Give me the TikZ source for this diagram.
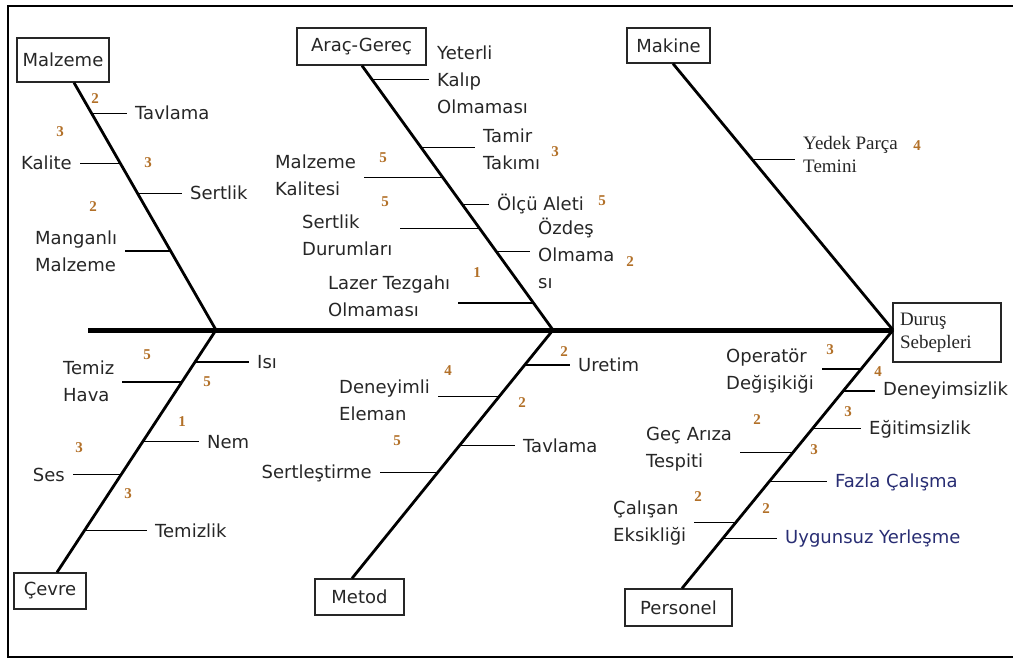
\documentclass[tikz,border=0pt]{standalone}
\usepackage{fontspec}
\setmainfont{DejaVu Sans}
\newfontfamily\serifnum{Liberation Serif}
\definecolor{scorecol}{RGB}{178,112,40}
\definecolor{navytext}{RGB}{40,45,115}

\begin{document}
\begin{tikzpicture}[
  x=1pt, y=-1pt,
  head/.style={
    rectangle,
    draw=black!85,
    line width=1.3pt,
    inner sep=0pt,
    text=black!85,
    font=\fontsize{18}{22}\selectfont
  },
  cause/.style={
    anchor=west,
    inner sep=1pt,
    align=left,
    text=black!85,
    font=\fontsize{18}{27}\selectfont
  },
  score/.style={
    inner sep=0pt,
    text=scorecol,
    font=\serifnum\bfseries\fontsize{15}{15}\selectfont
  },
  spine/.style={line width=5pt},
  bone/.style={line width=2.8pt},
  twig/.style={line width=1.3pt, shorten >=7pt}
]
\useasboundingbox (0,0) rectangle (1013,659);

% --- CORNICE ------------------------------------------------------
\draw[line width=2pt] (1016,6) -- (8,6) -- (8,657) -- (1016,657);

% --- SPINA E RISULTATO --------------------------------------------
\coordinate (tail) at (88,330);
\coordinate (j1) at (216,330);
\coordinate (j2) at (553,330);
\coordinate (j3) at (893,330);

\node[head, text width=94, inner xsep=7, minimum height=59, align=left,
      font=\serifnum\fontsize{19}{23}\selectfont] (effect) at (947,332.5) {Duruş\\Sebepleri};

\draw[spine] (tail) -- (j3);

% --- CATEGORIE ----------------------------------------------------
\node[head, minimum width=92, minimum height=44] (malzeme) at (63,60) {Malzeme};
\node[head, minimum width=129, minimum height=37] (arac) at (361.5,46.5) {Araç-Gereç};
\node[head, minimum width=83, minimum height=35] (makine) at (668.5,45.5) {Makine};
\node[head, minimum width=72, minimum height=36] (cevre) at (50,591) {Çevre};
\node[head, minimum width=89, minimum height=36] (metod) at (359.5,597) {Metod};
\node[head, minimum width=107, minimum height=37] (personel) at (678.5,607.5) {Personel};

% --- LISCHE -------------------------------------------------------
\draw[bone] ([xshift=11]malzeme.south) -- (j1)
  coordinate[pos=.125] (m1) coordinate[pos=.327] (m2)
  coordinate[pos=.448] (m3) coordinate[pos=.681] (m4);
\draw[bone] ([xshift=.5]arac.south) -- (j2)
  coordinate[pos=.053] (a1) coordinate[pos=.309] (a2)
  coordinate[pos=.423] (a3) coordinate[pos=.525] (a4)
  coordinate[pos=.615] (a5) coordinate[pos=.702] (a6)
  coordinate[pos=.898] (a7);
\draw[bone] ([xshift=4.5]makine.south) -- (j3)
  coordinate[pos=.36] (k1);
\draw[bone] ([xshift=7]cevre.north) -- (j1)
  coordinate[pos=.868] (c1) coordinate[pos=.786] (c2)
  coordinate[pos=.539] (c3) coordinate[pos=.403] (c4)
  coordinate[pos=.173] (c5);
\draw[bone] ([xshift=-7.5]metod.north) -- (j2)
  coordinate[pos=.859] (t1) coordinate[pos=.731] (t2)
  coordinate[pos=.534] (t3) coordinate[pos=.426] (t4);
\draw[bone] ([xshift=3.5]personel.north) -- (j3)
  coordinate[pos=.849] (p1) coordinate[pos=.764] (p2)
  coordinate[pos=.618] (p3) coordinate[pos=.525] (p4)
  coordinate[pos=.413] (p5) coordinate[pos=.255] (p6)
  coordinate[pos=.193] (p7);

% --- MALZEME ------------------------------------------------------
\node[cause] (tav1) at (134,113) {Tavlama};
\node[cause, anchor=east] (kal) at (73,163) {Kalite};
\node[cause] (ser1) at (189,193) {Sertlik};
\node[cause] (man) at (34,251) {Manganlı\\Malzeme};

\draw[twig] (m1) -- (m1 -| tav1.west);
\draw[twig] (m2) -- (m2 -| kal.east);
\draw[twig] (m3) -- (m3 -| ser1.west);
\draw[twig] (m4) -- (m4 -| man.east);

\node[score] (tav1-n) at (95,99) {2};
\node[score] (kal-n) at (60,132) {3};
\node[score] (ser1-n) at (148,163) {3};
\node[score] (man-n) at (93,207) {2};

% --- ARAÇ-GEREÇ ---------------------------------------------------
\node[cause] (yet) at (436,80) {Yeterli\\Kalıp\\Olmaması};
\node[cause] (tam) at (482,149) {Tamir\\Takımı};
\node[cause] (mka) at (274,175) {Malzeme\\Kalitesi};
\node[cause] (olc) at (496,204) {Ölçü Aleti};
\node[cause] (sdu) at (301,235) {Sertlik\\Durumları};
\node[cause] (ozd) at (537,253) {Özdeş\\Olmama\\sı};
\node[cause] (laz) at (327,296) {Lazer Tezgahı\\Olmaması};

\draw[twig] (a1) -- (a1 -| yet.west);
\draw[twig] (a2) -- (a2 -| tam.west);
\draw[twig] (a3) -- (a3 -| mka.east);
\draw[twig] (a4) -- (a4 -| olc.west);
\draw[twig] (a5) -- (a5 -| sdu.east);
\draw[twig] (a6) -- (a6 -| ozd.west);
\draw[twig] (a7) -- (a7 -| laz.east);

\node[score] (tam-n) at (555,152) {3};
\node[score] (mka-n) at (383,158) {5};
\node[score] (olc-n) at (602,201) {5};
\node[score] (sdu-n) at (385,202) {5};
\node[score] (ozd-n) at (630,262) {2};
\node[score] (laz-n) at (477,273) {1};

% --- MAKINE -------------------------------------------------------
\node[cause, font=\serifnum\fontsize{19}{23}\selectfont] (yed) at (802,154) {Yedek Parça\\Temini};
\draw[twig] (k1) -- (k1 -| yed.west);
\node[score] (yed-n) at (917,146) {4};

% --- ÇEVRE --------------------------------------------------------
\node[cause] (isi) at (256,362) {Isı};
\node[cause] (thv) at (62,381) {Temiz\\Hava};
\node[cause] (nem) at (206,442) {Nem};
\node[cause, anchor=east] (ses) at (66,475) {Ses};
\node[cause] (tmz) at (154,531) {Temizlik};

\draw[twig] (c1) -- (c1 -| isi.west);
\draw[twig] (c2) -- (c2 -| thv.east);
\draw[twig] (c3) -- (c3 -| nem.west);
\draw[twig] (c4) -- (c4 -| ses.east);
\draw[twig] (c5) -- (c5 -| tmz.west);

\node[score] (thv-n) at (147,355) {5};
\node[score] (isi-n) at (207,382) {5};
\node[score] (nem-n) at (182,422) {1};
\node[score] (ses-n) at (79,448) {3};
\node[score] (tmz-n) at (128,494) {3};

% --- METOD --------------------------------------------------------
\node[cause] (ure) at (577,365) {Uretim};
\node[cause] (den) at (338,400) {Deneyimli\\Eleman};
\node[cause] (tav2) at (522,446) {Tavlama};
\node[cause, anchor=east] (sts) at (373,473) {Sertleştirme};

\draw[twig] (t1) -- (t1 -| ure.west);
\draw[twig] (t2) -- (t2 -| den.east);
\draw[twig] (t3) -- (t3 -| tav2.west);
\draw[twig] (t4) -- (t4 -| sts.east);

\node[score] (ure-n) at (564,352) {2};
\node[score] (den-n) at (448,371) {4};
\node[score] (tav2-n) at (522,403) {2};
\node[score] (sts-n) at (397,441) {5};

% --- PERSONEL -----------------------------------------------------
\node[cause] (ope) at (725,371) {Operatör\\Değişikiği};
\node[cause] (dsz) at (882,391) {Deneyimsizlik};
\node[cause] (egt) at (868,429) {Eğitimsizlik};
\node[cause] (gec) at (645,449) {Geç Arıza\\Tespiti};
\node[cause, text=navytext] (faz) at (834,482) {Fazla Çalışma};
\node[cause] (cal) at (612,523) {Çalışan\\Eksikliği};
\node[cause, text=navytext] (uyg) at (784,539) {Uygunsuz Yerleşme};

\draw[twig] (p1) -- (p1 -| ope.east);
\draw[twig] (p2) -- (p2 -| dsz.west);
\draw[twig] (p3) -- (p3 -| egt.west);
\draw[twig] (p4) -- (p4 -| gec.east);
\draw[twig] (p5) -- (p5 -| faz.west);
\draw[twig] (p6) -- (p6 -| cal.east);
\draw[twig] (p7) -- (p7 -| uyg.west);

\node[score] (ope-n) at (830,350) {3};
\node[score] (dsz-n) at (878,372) {4};
\node[score] (egt-n) at (848,412) {3};
\node[score] (gec-n) at (757,420) {2};
\node[score] (faz-n) at (814,450) {3};
\node[score] (cal-n) at (698,497) {2};
\node[score] (uyg-n) at (766,509) {2};

\end{tikzpicture}
\end{document}
